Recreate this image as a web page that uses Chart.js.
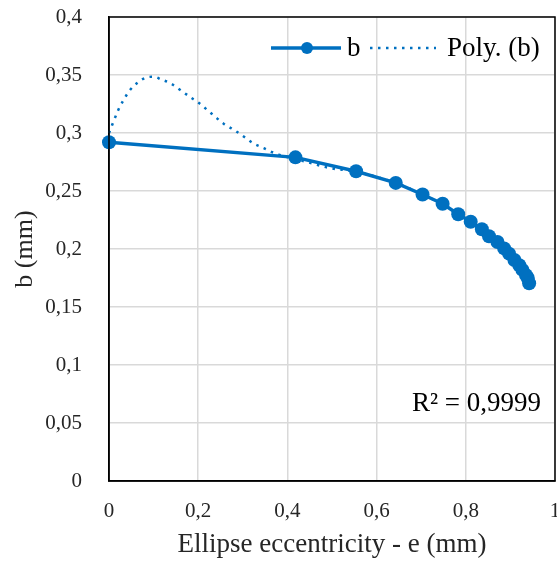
<!DOCTYPE html>
<html>
<head>
<meta charset="utf-8">
<script src="https://cdn.jsdelivr.net/npm/chart.js@4.4.0/dist/chart.umd.min.js"></script>
<style>
    body { margin: 0; background: #fff; }
    #wrap { width: 557px; height: 561px; position: relative; }
</style>
</head>
<body>
<div id="wrap"><canvas id="chart"></canvas></div>
<script>
// measured series b (eccentricity e -> b)
const eValues = [0, 0.418, 0.554, 0.643, 0.703, 0.748, 0.783, 0.811, 0.836, 0.852,
    0.871, 0.886, 0.897, 0.909, 0.920, 0.927, 0.935, 0.939, 0.942];
const bValues = [0.292, 0.279, 0.267, 0.257, 0.247, 0.239, 0.230, 0.2235, 0.217, 0.211,
    0.206, 0.2005, 0.196, 0.1905, 0.186, 0.182, 0.1775, 0.175, 0.1705];

// polynomial trendline
const polyX = [0, 0.021, 0.032, 0.047, 0.066, 0.085, 0.100, 0.118, 0.137, 0.160, 0.182,
    0.201, 0.220, 0.238, 0.257, 0.279, 0.302, 0.324, 0.347, 0.369, 0.392, 0.418, 0.458,
    0.492, 0.554, 0.643, 0.703, 0.748, 0.800, 0.850, 0.900, 0.942];
const polyY = [0.300, 0.320, 0.328, 0.337, 0.344, 0.348, 0.3485, 0.346, 0.343, 0.337, 0.331,
    0.326, 0.320, 0.314, 0.308, 0.303, 0.297, 0.291, 0.287, 0.283, 0.280, 0.2775, 0.2735,
    0.270, 0.2665, 0.257, 0.247, 0.2385, 0.226, 0.212, 0.193, 0.1705];

const xTicks = [0, 0.2, 0.4, 0.6, 0.8, 1];
const yTicks = [0, 0.05, 0.1, 0.15, 0.2, 0.25, 0.3, 0.35, 0.4];
const rSquared = "R² = 0,9999";

const blue = "#0070c0";
const serif = "'Liberation Serif', 'Times New Roman', serif";
const fmt = (v) => String(Math.round(v * 100) / 100).replace(".", ",");

// frame, legend, y title, R² label
const extras = {
    id: "extras",
    afterDraw(chart) {
        const ctx = chart.ctx;
        const a = chart.chartArea;
        ctx.save();
        ctx.strokeStyle = "#000";
        ctx.lineWidth = 1.5;
        ctx.strokeRect(a.left, a.top, a.right - a.left, a.bottom - a.top);

        // legend
        const ly = a.top + 31;
        const lx = a.left + 162;
        ctx.strokeStyle = blue;
        ctx.lineWidth = 3.5;
        ctx.beginPath();
        ctx.moveTo(lx, ly);
        ctx.lineTo(lx + 70, ly);
        ctx.stroke();
        ctx.fillStyle = blue;
        ctx.beginPath();
        ctx.arc(lx + 36, ly, 6, 0, Math.PI * 2);
        ctx.fill();
        ctx.fillStyle = "#000";
        ctx.font = "27px " + serif;
        ctx.textBaseline = "middle";
        ctx.fillText("b", lx + 76, ly + 1);
        ctx.strokeStyle = blue;
        ctx.lineWidth = 2.5;
        ctx.setLineDash([2.5, 5.5]);
        ctx.beginPath();
        ctx.moveTo(lx + 99, ly);
        ctx.lineTo(lx + 165, ly);
        ctx.stroke();
        ctx.setLineDash([]);
        ctx.fillText("Poly. (b)", lx + 176, ly + 1);

        // R² label
        ctx.textAlign = "right";
        ctx.fillText(rSquared, a.right - 14, a.top + 387);

        // y axis title, centred on the plot
        ctx.translate(32, (a.top + a.bottom) / 2);
        ctx.rotate(-Math.PI / 2);
        ctx.textAlign = "center";
        ctx.textBaseline = "alphabetic";
        ctx.font = "26px " + serif;
        ctx.fillStyle = "#262626";
        ctx.fillText("b (mm)", 0, 0);
        ctx.restore();
    },
};

new Chart(document.getElementById("chart"), {
    type: "scatter",
    data: {
        datasets: [
            {
                label: "b",
                data: eValues.map((e, i) => ({ x: e, y: bValues[i] })),
                showLine: true,
                borderColor: blue,
                backgroundColor: blue,
                borderWidth: 3.5,
                pointRadius: 7,
                pointHoverRadius: 7,
                pointBorderWidth: 0,
                clip: false,
                order: 0,
            },
            {
                label: "Poly. (b)",
                data: polyX.map((x, i) => ({ x: x, y: polyY[i] })),
                showLine: true,
                borderColor: blue,
                borderWidth: 2.5,
                borderDash: [2.5, 5.5],
                pointRadius: 0,
                cubicInterpolationMode: "monotone",
                clip: false,
                order: 1,
            },
        ],
    },
    options: {
        responsive: true,
        maintainAspectRatio: false,
        animation: false,
        layout: {
            autoPadding: false,
            padding: { top: 17, right: 2, left: 0, bottom: 0 },
        },
        plugins: {
            legend: { display: false },
            tooltip: { enabled: false },
        },
        scales: {
            x: {
                type: "linear",
                min: 0,
                max: 1,
                afterFit: (s) => {
                    s.height = 80;
                    s.paddingLeft = 0;
                    s.paddingRight = 0;
                },
                afterBuildTicks: (s) => { s.ticks = xTicks.map((v) => ({ value: v })); },
                ticks: {
                    callback: fmt,
                    font: { family: serif, size: 21 },
                    color: "#262626",
                    padding: 18,
                    maxRotation: 0,
                },
                grid: { color: "#d9d9d9", lineWidth: 1.5, drawTicks: false },
                border: { color: "#000", width: 1.5 },
                title: {
                    display: true,
                    text: "Ellipse eccentricity - e (mm)",
                    font: { family: serif, size: 27 },
                    color: "#262626",
                    padding: { top: 4, bottom: 0 },
                },
            },
            y: {
                type: "linear",
                min: 0,
                max: 0.4,
                afterFit: (s) => {
                    s.width = 109;
                    s.paddingTop = 0;
                    s.paddingBottom = 0;
                },
                afterBuildTicks: (s) => { s.ticks = yTicks.map((v) => ({ value: v })); },
                ticks: {
                    callback: fmt,
                    font: { family: serif, size: 21 },
                    color: "#262626",
                    padding: 27,
                },
                grid: { color: "#d9d9d9", lineWidth: 1.5, drawTicks: false },
                border: { color: "#000", width: 1.5 },
            },
        },
    },
    plugins: [extras],
});
</script>
</body>
</html>
